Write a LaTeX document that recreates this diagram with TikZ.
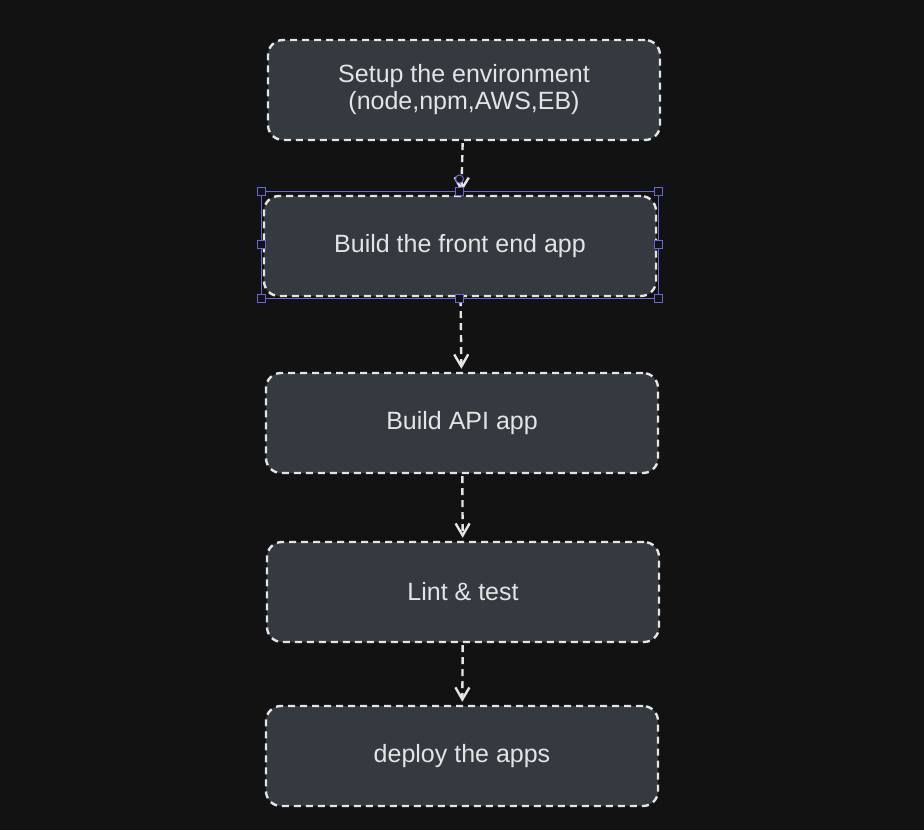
\documentclass[tikz,border=0pt]{standalone}
\usepackage{fontspec}
\setmainfont{Liberation Sans}
\usetikzlibrary{arrows.meta}
\definecolor{bgdark}{HTML}{121212}
\definecolor{boxfill}{HTML}{343A40}
\definecolor{inkwhite}{HTML}{E4E4E4}
\definecolor{selblue}{HTML}{6965DB}
\tikzset{
    stepbox/.style={draw=inkwhite, fill=boxfill, line width=2.4pt,
        dash pattern=on 7pt off 5pt, rounded corners=15pt,
        minimum width=392pt, minimum height=100pt, inner sep=0pt,
        text=inkwhite, font=\fontsize{25}{27}\selectfont, align=center},
    flow/.style={draw=inkwhite, line width=2.4pt, dash pattern=on 7pt off 5pt,
        shorten >=3pt, shorten <=2pt,
        -{Straight Barb[length=12pt,width=14pt,line width=2.4pt]}},
    handle/.style={draw=selblue, fill=bgdark, line width=1pt}
}

\begin{document}
\begin{tikzpicture}[x=1pt,y=-1pt]
\fill[bgdark] (0,0) rectangle (924,830);
\useasboundingbox (0,0) rectangle (924,830);

% the steps
\node[stepbox] (setup)  at (464,90)  {Setup the environment\\(node,npm,AWS,EB)};
\node[stepbox] (front)  at (460,246) {Build the front end app};
\node[stepbox] (api)    at (462,423) {Build API app};
\node[stepbox] (lint)   at (463,592) {Lint \& test};
\node[stepbox] (deploy) at (462,756) {deploy the apps};

\draw[flow] (setup) -- (front);
\draw[flow] (front) -- (api);
\draw[flow] (api) -- (lint);
\draw[flow] (lint) -- (deploy);

% selection frame round the second step
\draw[selblue, line width=1pt] (261,191) rectangle (658,298);
\foreach \x/\y in {261/191, 459.5/191, 658/191, 261/244.5, 658/244.5,
    261/298, 459.5/298, 658/298}{
    \draw[handle] (\x-4,\y-4) rectangle (\x+4,\y+4);
}
\draw[handle] (459.5,179) circle (4);
\end{tikzpicture}
\end{document}
